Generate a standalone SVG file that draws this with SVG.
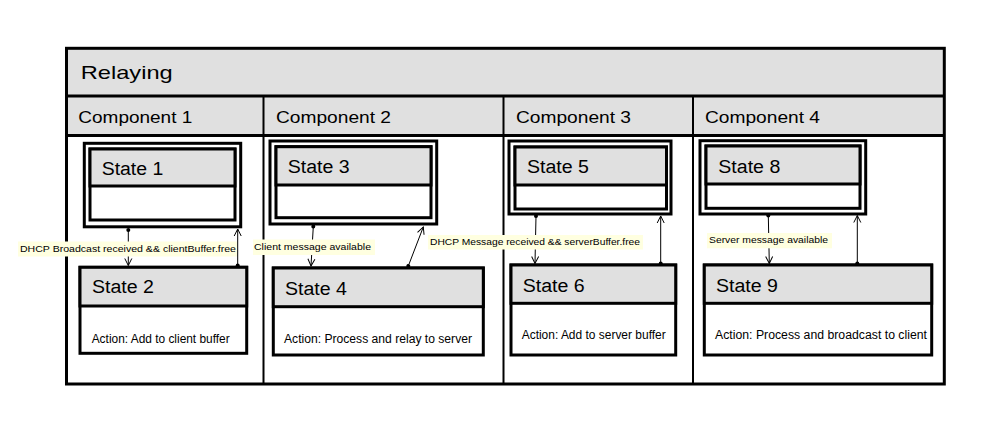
<svg xmlns="http://www.w3.org/2000/svg" width="981" height="429" viewBox="0 0 981 429">
<style>
.band{fill:#e0e0e0;stroke:none}
.frame{fill:none;stroke:#000;stroke-width:3}
.div{stroke:#000;stroke-width:2}
.box{fill:#fff;stroke:#000;stroke-width:3}
.hdr{fill:#e0e0e0;stroke:#000;stroke-width:3}
.t{font-family:"Liberation Sans",Arial,sans-serif;fill:#000}
.title{font-size:19px}
.comp{font-size:17px}
.st{font-size:18px}
.act{font-size:12px}
.lbl{font-size:9px}
.lbg{fill:#ffffe0;stroke:none}
.c{stroke:#000;stroke-width:1;fill:none;marker-start:url(#dot);marker-end:url(#arr)}
</style>
<defs>
<marker id="arr" markerWidth="10" markerHeight="10" refX="9" refY="5" orient="auto" markerUnits="userSpaceOnUse">
<path d="M2,1.5 L9,5 L2,8.5" fill="none" stroke="#000" stroke-width="1"/>
</marker>
<marker id="dot" markerWidth="6" markerHeight="6" refX="3" refY="3" orient="auto" markerUnits="userSpaceOnUse">
<circle cx="3" cy="3" r="2" fill="#000"/>
</marker>
</defs>
<rect width="981" height="429" fill="#fff"/>
<g id="relaying">
<rect class="band" x="66" y="48" width="878" height="48"/>
<rect class="band" x="66" y="96" width="878" height="39"/>
<text class="t title" x="80.7" y="79.3" textLength="92" lengthAdjust="spacingAndGlyphs">Relaying</text>
<line x1="66" y1="96" x2="944" y2="96" stroke="#000" stroke-width="3"/>
<line x1="66" y1="135.5" x2="944" y2="135.5" stroke="#000" stroke-width="3"/>
<line class="div" x1="263.5" y1="96" x2="263.5" y2="384"/>
<line class="div" x1="503.5" y1="96" x2="503.5" y2="384"/>
<line class="div" x1="693" y1="96" x2="693" y2="384"/>
<rect class="frame" x="66.5" y="48.3" width="877.8" height="335.7"/>
</g>
<g id="component1"><text class="t comp" x="78.3" y="123.3" textLength="114" lengthAdjust="spacingAndGlyphs">Component 1</text></g>
<g id="component2"><text class="t comp" x="276" y="123.3" textLength="115" lengthAdjust="spacingAndGlyphs">Component 2</text></g>
<g id="component3"><text class="t comp" x="516" y="123.3" textLength="115" lengthAdjust="spacingAndGlyphs">Component 3</text></g>
<g id="component4"><text class="t comp" x="705" y="123.3" textLength="115" lengthAdjust="spacingAndGlyphs">Component 4</text></g>

<g id="state1">
<rect class="box" x="84.3" y="143.3" width="156.4" height="83.5"/>
<rect class="box" x="90" y="149" width="145" height="71"/>
<rect class="hdr" x="90" y="149" width="145" height="37"/>
<text class="t st" x="101.7" y="175" textLength="61.6" lengthAdjust="spacingAndGlyphs">State 1</text>
</g>
<g id="state3">
<rect class="box" x="270" y="141" width="166.7" height="83"/>
<rect class="box" x="276" y="146.7" width="155" height="71"/>
<rect class="hdr" x="276" y="146.7" width="155" height="38.3"/>
<text class="t st" x="287.7" y="173.3" textLength="62" lengthAdjust="spacingAndGlyphs">State 3</text>
</g>
<g id="state5">
<rect class="box" x="509" y="141" width="162" height="73"/>
<rect class="box" x="515" y="147" width="151.5" height="62"/>
<rect class="hdr" x="515" y="147" width="151.5" height="38"/>
<text class="t st" x="527" y="173" textLength="62" lengthAdjust="spacingAndGlyphs">State 5</text>
</g>
<g id="state8">
<rect class="box" x="700" y="140.7" width="165.7" height="73.3"/>
<rect class="box" x="706" y="146" width="154" height="62.3"/>
<rect class="hdr" x="706" y="146" width="154" height="38"/>
<text class="t st" x="718.3" y="172.7" textLength="62" lengthAdjust="spacingAndGlyphs">State 8</text>
</g>

<g id="state2">
<rect class="box" x="80" y="267.3" width="166.7" height="86"/>
<rect class="hdr" x="80" y="267.3" width="166.7" height="38.7"/>
<text class="t st" x="92" y="293.3" textLength="62" lengthAdjust="spacingAndGlyphs">State 2</text>
<text class="t act" x="91.7" y="342.7" textLength="138" lengthAdjust="spacingAndGlyphs">Action: Add to client buffer</text>
</g>
<g id="state4">
<rect class="box" x="273.3" y="268" width="210" height="87"/>
<rect class="hdr" x="273.3" y="268" width="210" height="38.7"/>
<text class="t st" x="285" y="295" textLength="62" lengthAdjust="spacingAndGlyphs">State 4</text>
<text class="t act" x="284" y="343" textLength="188" lengthAdjust="spacingAndGlyphs">Action: Process and relay to server</text>
</g>
<g id="state6">
<rect class="box" x="511" y="265" width="164.7" height="90"/>
<rect class="hdr" x="511" y="265" width="164.7" height="38.3"/>
<text class="t st" x="522.7" y="291.7" textLength="62" lengthAdjust="spacingAndGlyphs">State 6</text>
<text class="t act" x="521.7" y="339.3" textLength="144" lengthAdjust="spacingAndGlyphs">Action: Add to server buffer</text>
</g>
<g id="state9">
<rect class="box" x="704.3" y="265" width="227.4" height="90"/>
<rect class="hdr" x="704.3" y="265" width="227.4" height="38.3"/>
<text class="t st" x="716" y="291.7" textLength="62" lengthAdjust="spacingAndGlyphs">State 9</text>
<text class="t act" x="715" y="339.3" textLength="212" lengthAdjust="spacingAndGlyphs">Action: Process and broadcast to client</text>
</g>

<g id="connectors">
<line class="c" x1="128.3" y1="230" x2="128.3" y2="265.5"/>
<line class="c" x1="237.7" y1="265.5" x2="237.7" y2="229"/>
<line class="c" x1="313.3" y1="226.5" x2="311" y2="266"/>
<line class="c" x1="408.3" y1="266" x2="423.3" y2="227"/>
<line class="c" x1="536" y1="216" x2="535" y2="263.5"/>
<line class="c" x1="660.7" y1="263.5" x2="660.7" y2="216"/>
<line class="c" x1="768.3" y1="215.5" x2="769.3" y2="263.5"/>
<line class="c" x1="857.3" y1="263.5" x2="857.3" y2="215.5"/>
</g>
<g id="labels">
<rect class="lbg" x="18" y="241.5" width="219" height="15"/>
<text class="t lbl" x="20" y="252" textLength="216" lengthAdjust="spacingAndGlyphs">DHCP Broadcast received &amp;&amp; clientBuffer.free</text>
<rect class="lbg" x="253" y="239.5" width="122" height="15.5"/>
<text class="t lbl" x="254" y="250" textLength="117" lengthAdjust="spacingAndGlyphs">Client message available</text>
<rect class="lbg" x="428" y="235" width="215" height="14.5"/>
<text class="t lbl" x="430" y="244.5" textLength="210" lengthAdjust="spacingAndGlyphs">DHCP Message received &amp;&amp; serverBuffer.free</text>
<rect class="lbg" x="707" y="233" width="125" height="15.3"/>
<text class="t lbl" x="709" y="242.5" textLength="119" lengthAdjust="spacingAndGlyphs">Server message available</text>
</g>
</svg>
